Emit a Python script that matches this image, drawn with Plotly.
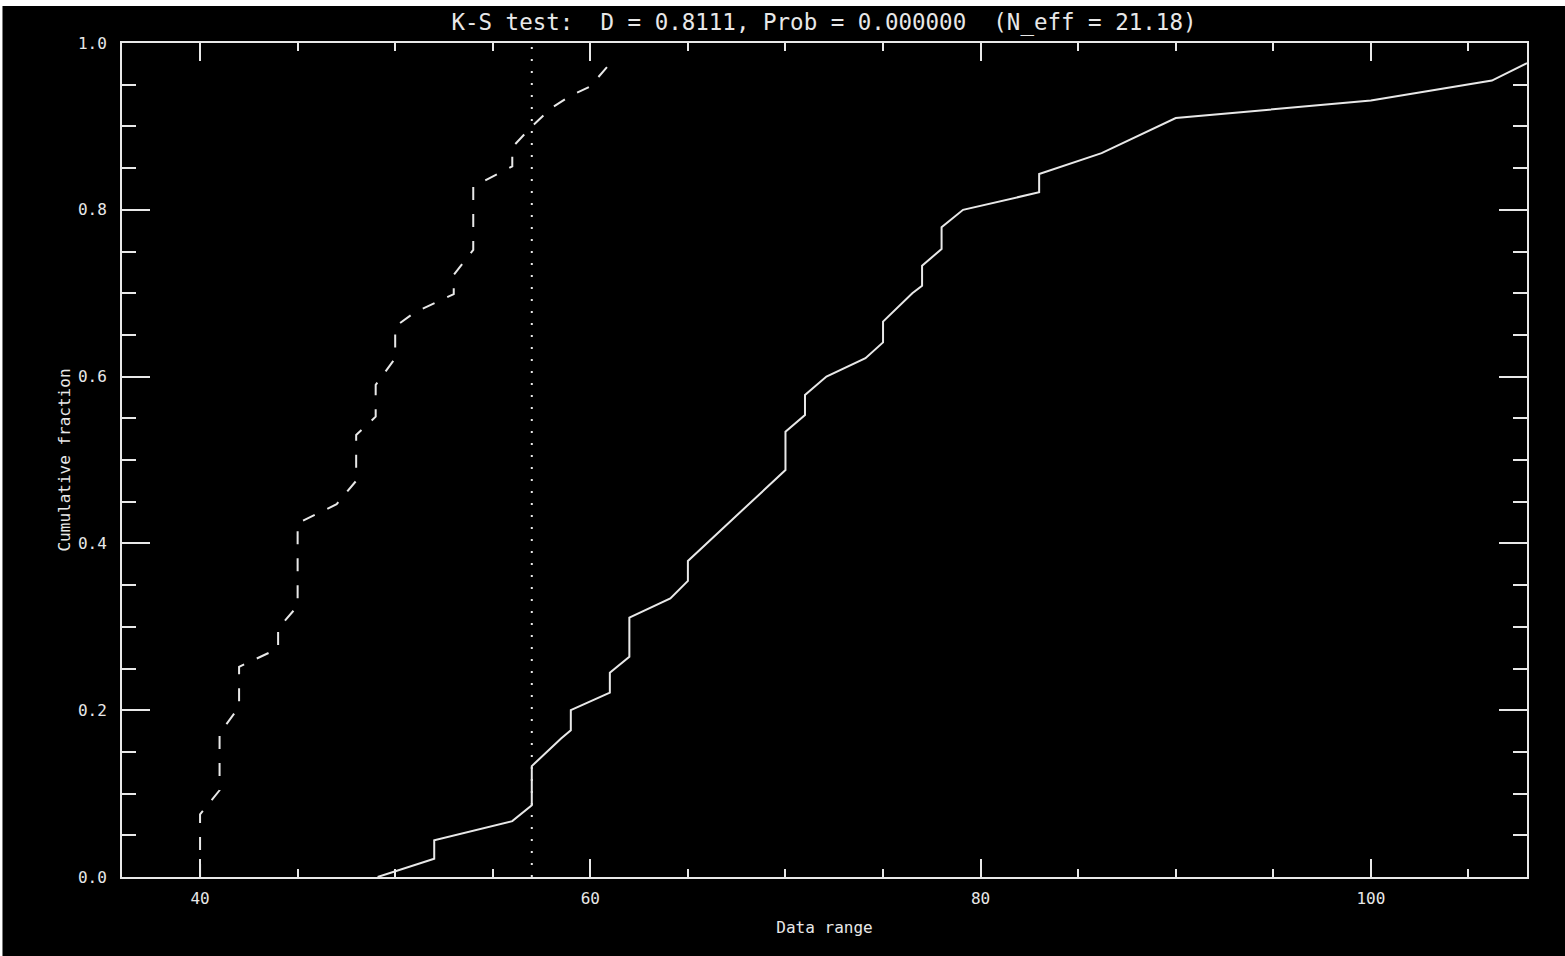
import plotly.graph_objects as go

# Dashed curve (first sample) cumulative distribution vertices
dash_x = [40, 40, 41, 41, 42, 42, 44, 44, 45, 45, 47, 48, 48, 49, 49, 50, 50, 51, 53, 53,
          54, 54, 56, 56, 57, 58, 59, 60, 61]
dash_y = [0.0, 0.075, 0.104, 0.172, 0.204, 0.252, 0.274, 0.298, 0.325, 0.424, 0.447, 0.475,
          0.530, 0.552, 0.590, 0.622, 0.660, 0.677, 0.699, 0.722, 0.752, 0.828, 0.852, 0.875,
          0.900, 0.922, 0.937, 0.948, 0.975]

# Solid curve (second sample) cumulative distribution vertices
solid_x = [49.1, 52, 52, 56, 57, 57, 58.5, 59, 59, 61, 61, 62, 62, 64.1, 65, 65, 70, 70, 71, 71,
           72.1, 74.1, 75, 75, 76.5, 77, 77, 78, 78, 79.1, 83, 83, 86.2, 90, 100, 106.2, 108]
solid_y = [0.0, 0.022, 0.044, 0.067, 0.086, 0.133, 0.166, 0.176, 0.200, 0.221, 0.245, 0.264,
           0.311, 0.334, 0.355, 0.379, 0.488, 0.534, 0.554, 0.578, 0.600, 0.622, 0.641, 0.666,
           0.700, 0.709, 0.733, 0.753, 0.779, 0.800, 0.821, 0.843, 0.868, 0.910, 0.931, 0.955,
           0.976]

# Location of maximum distance D
d_x = [57, 57]
d_y = [0.0, 1.0]

x_ticks = [40, 60, 80, 100]
y_ticks = [0.0, 0.2, 0.4, 0.6, 0.8, 1.0]

title_text = "K-S test:  D = 0.8111, Prob = 0.000000  (N_eff = 21.18)"
x_title = "Data range"
y_title = "Cumulative fraction"

FONT = "DejaVu Sans Mono"
WHITE = "#e8e8e8"

fig = go.Figure()
fig.add_trace(go.Scatter(x=dash_x, y=dash_y, mode="lines",
                         line=dict(color=WHITE, width=2, dash="13px,14px"),
                         showlegend=False, hoverinfo="skip"))
fig.add_trace(go.Scatter(x=solid_x, y=solid_y, mode="lines",
                         line=dict(color=WHITE, width=2),
                         showlegend=False, hoverinfo="skip"))
fig.add_trace(go.Scatter(x=d_x, y=d_y, mode="lines",
                         line=dict(color=WHITE, width=2, dash="2px,10px"),
                         showlegend=False, hoverinfo="skip"))

axis_common = dict(
    showgrid=False, zeroline=False, showline=True, linecolor=WHITE, linewidth=2,
    mirror="ticks", ticks="inside", tickcolor=WHITE, tickwidth=2,
    tickfont=dict(family=FONT, size=16, color=WHITE),
)

fig.update_layout(
    width=1565, height=956,
    margin=dict(l=122, r=38, t=43, b=79),
    paper_bgcolor="black", plot_bgcolor="black",
    title=dict(text=title_text, x=0.5265, xanchor="center", xref="container",
               y=1 - 22 / 956, yanchor="middle", yref="container",
               font=dict(family=FONT, size=22.5, color=WHITE)),
    xaxis=dict(range=[36, 108], tickvals=x_ticks, ticklen=18,
               minor=dict(dtick=5, tick0=0, ticklen=8, ticks="inside", tickcolor=WHITE, tickwidth=2),
               ticklabelstandoff=6,
               title=dict(text=x_title, font=dict(family=FONT, size=16, color=WHITE), standoff=15),
               **axis_common),
    yaxis=dict(range=[0, 1.0], tickvals=y_ticks, tickformat=".1f", ticklen=28,
               minor=dict(dtick=0.05, tick0=0, ticklen=14, ticks="inside", tickcolor=WHITE, tickwidth=2),
               ticklabelstandoff=10,
               title=dict(text=y_title, font=dict(family=FONT, size=16, color=WHITE), standoff=3),
               **axis_common),
    shapes=[
        dict(type="rect", xref="paper", yref="paper", layer="above",
             x0=-0.0872, x1=1.03, y0=1 + 37 / 834, y1=1.06,
             fillcolor="white", line=dict(width=0)),
        dict(type="rect", xref="paper", yref="paper", layer="above",
             x0=-0.0872, x1=-0.0872 + 3 / 1405, y0=-0.1, y1=1.06,
             fillcolor="white", line=dict(width=0)),
    ],
)

fig.write_html("out.html", config={"displayModeBar": False},
               post_script="document.body.style.margin='0';")
